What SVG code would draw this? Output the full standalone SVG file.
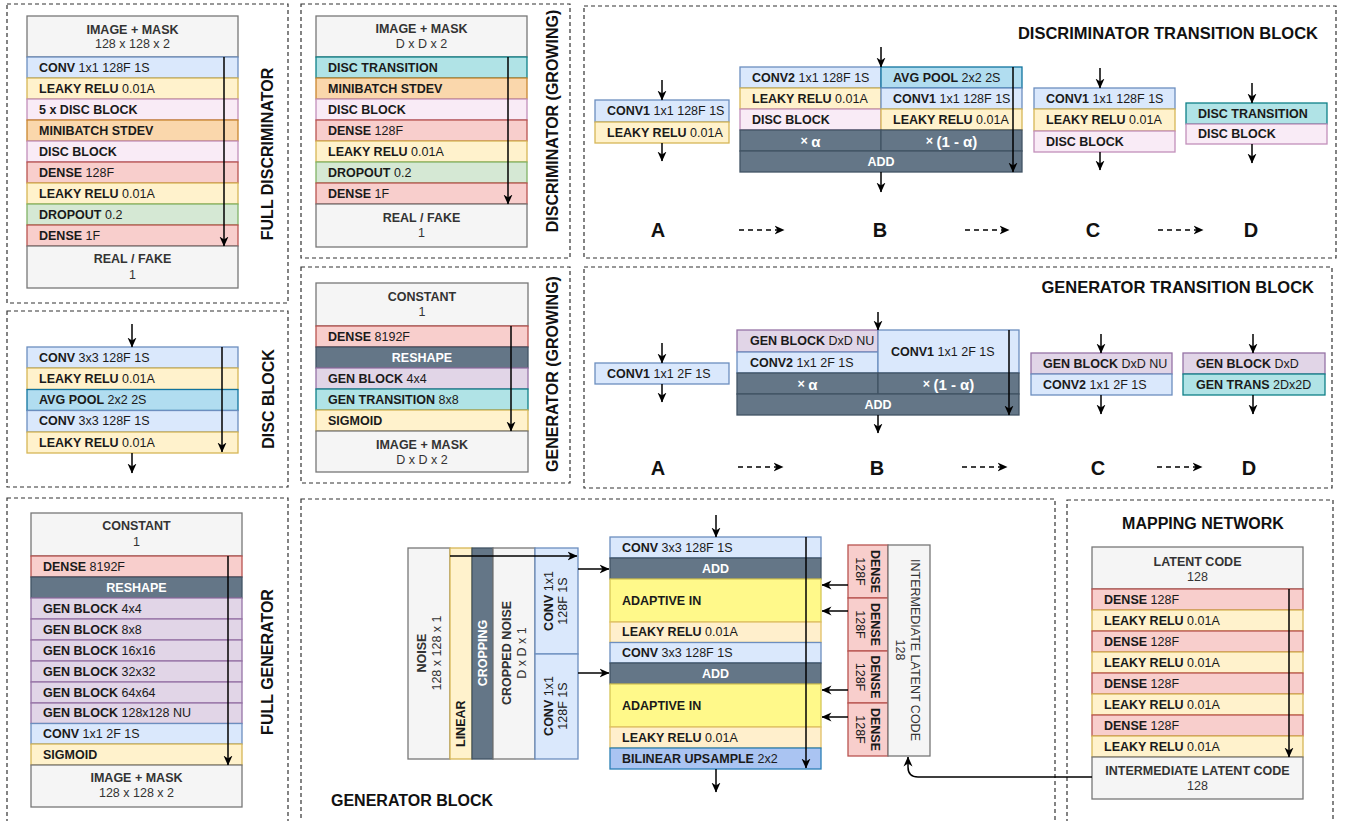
<svg xmlns="http://www.w3.org/2000/svg" width="1348" height="821" viewBox="0 0 1348 821">
<defs>
<style>
text{font-family:"Liberation Sans",Arial,Helvetica,sans-serif;font-size:12.5px;fill:#1a1a1a;dominant-baseline:central}
.bd{font-weight:bold}
.c{text-anchor:middle}
.h{fill:#333}
.w{fill:#fff;font-weight:bold;text-anchor:middle}
.al{font-size:15px}
.ttl{font-size:16px;font-weight:bold;fill:#111;text-anchor:middle}
.ttl2{font-size:16.5px;font-weight:bold;fill:#111;text-anchor:end}
.lbl{font-size:20px;font-weight:bold;text-anchor:middle;fill:#111}
rect{stroke-width:1.3}
.panel{fill:none;stroke:#333;stroke-width:1.2;stroke-dasharray:4 3}
.b{fill:#dae8fc;stroke:#6c8ebf}
.y{fill:#fff2cc;stroke:#d6b656}
.pk{fill:#f9ebf6;stroke:#c290bb}
.o{fill:#fad7ac;stroke:#c9862f}
.r{fill:#f8cecc;stroke:#b85450}
.g{fill:#d5e8d4;stroke:#82b366}
.gr{fill:#f5f5f5;stroke:#777}
.t{fill:#b0e3e6;stroke:#0e8088}
.ap{fill:#b1ddf0;stroke:#10739e}
.d{fill:#647687;stroke:#415364}
.pu{fill:#e1d5e7;stroke:#9673a6}
.ai{fill:#fff98a;stroke:#d6c656}
.ly{fill:#ffefcc;stroke:#e0bf66}
.bu{fill:#aac4f2;stroke:#2a7fb5}
.ar{fill:none;stroke:#000;stroke-width:1.5;marker-end:url(#ah)}
.da{fill:none;stroke:#000;stroke-width:1.5;stroke-dasharray:5 4;marker-end:url(#ah)}
</style>
<marker id="ah" viewBox="0 0 10 10" refX="9.5" refY="5" markerWidth="10" markerHeight="10" markerUnits="userSpaceOnUse" orient="auto"><path d="M0,0.5 L10,5 L0,9.5 L3,5 z" fill="#000"/></marker>
</defs>
<rect width="1348" height="821" fill="#fff" stroke="none"/>

<g id="panels">
<rect class="panel" x="7" y="4" width="281" height="299"/>
<rect class="panel" x="7" y="311" width="281" height="176"/>
<rect class="panel" x="7" y="498" width="281" height="340"/>
<rect class="panel" x="301" y="4" width="269" height="254"/>
<rect class="panel" x="301" y="267" width="269" height="216"/>
<rect class="panel" x="584" y="6" width="752" height="252"/>
<rect class="panel" x="584" y="267" width="748" height="221"/>
<rect class="panel" x="301" y="499" width="754" height="340"/>
<rect class="panel" x="1067" y="500" width="266" height="340"/>
</g>

<g id="titles">
<text class="ttl" transform="rotate(-90 267 154)" x="267" y="154">FULL DISCRIMINATOR</text>
<text class="ttl" transform="rotate(-90 268 399)" x="268" y="399">DISC BLOCK</text>
<text class="ttl" transform="rotate(-90 267 662)" x="267" y="662">FULL GENERATOR</text>
<text class="ttl" transform="rotate(-90 552 121)" x="552" y="121">DISCRIMINATOR (GROWING)</text>
<text class="ttl" transform="rotate(-90 552 374)" x="552" y="374">GENERATOR (GROWING)</text>
<text class="ttl2" x="1318" y="33">DISCRIMINATOR TRANSITION BLOCK</text>
<text class="ttl2" x="1314" y="287">GENERATOR TRANSITION BLOCK</text>
<text class="ttl" x="1203" y="523">MAPPING NETWORK</text>
<text class="ttl" x="331" y="800" style="text-anchor:start">GENERATOR BLOCK</text>
</g>

<g id="full-discriminator">
<rect class="gr" x="27" y="16" width="211" height="41"/>
<text class="c h bd" x="132.5" y="30">IMAGE + MASK</text>
<text class="c h" x="132.5" y="44">128 x 128 x 2</text>
<rect class="b" x="27" y="57" width="211" height="21"/><text x="39" y="67.5"><tspan class="bd">CONV</tspan> 1x1 128F 1S</text>
<rect class="y" x="27" y="78" width="211" height="21"/><text x="39" y="88.5"><tspan class="bd">LEAKY RELU</tspan> 0.01A</text>
<rect class="pk" x="27" y="99" width="211" height="21"/><text class="bd" x="39" y="109.5">5 x DISC BLOCK</text>
<rect class="o" x="27" y="120" width="211" height="21"/><text class="bd" x="39" y="130.5">MINIBATCH STDEV</text>
<rect class="pk" x="27" y="141" width="211" height="21"/><text class="bd" x="39" y="151.5">DISC BLOCK</text>
<rect class="r" x="27" y="162" width="211" height="21"/><text x="39" y="172.5"><tspan class="bd">DENSE</tspan> 128F</text>
<rect class="y" x="27" y="183" width="211" height="21"/><text x="39" y="193.5"><tspan class="bd">LEAKY RELU</tspan> 0.01A</text>
<rect class="g" x="27" y="204" width="211" height="21"/><text x="39" y="214.5"><tspan class="bd">DROPOUT</tspan> 0.2</text>
<rect class="r" x="27" y="225" width="211" height="21"/><text x="39" y="235.5"><tspan class="bd">DENSE</tspan> 1F</text>
<rect class="gr" x="27" y="246" width="211" height="42"/>
<text class="c h bd" x="132.5" y="259">REAL / FAKE</text>
<text class="c h" x="132.5" y="275">1</text>
</g>

<g id="disc-block">
<rect class="b" x="27" y="347" width="211" height="21"/><text x="39" y="357.5"><tspan class="bd">CONV</tspan> 3x3 128F 1S</text>
<rect class="y" x="27" y="368" width="211" height="21.5"/><text x="39" y="378.7"><tspan class="bd">LEAKY RELU</tspan> 0.01A</text>
<rect class="ap" x="27" y="389.5" width="211" height="21"/><text x="39" y="400"><tspan class="bd">AVG POOL</tspan> 2x2 2S</text>
<rect class="b" x="27" y="410.5" width="211" height="21.5"/><text x="39" y="421.2"><tspan class="bd">CONV</tspan> 3x3 128F 1S</text>
<rect class="y" x="27" y="432" width="211" height="21"/><text x="39" y="442.5"><tspan class="bd">LEAKY RELU</tspan> 0.01A</text>
</g>

<g id="disc-growing">
<rect class="gr" x="316" y="16" width="211" height="41"/>
<text class="c h bd" x="421.5" y="29">IMAGE + MASK</text>
<text class="c h" x="421.5" y="44">D x D x 2</text>
<rect class="t" x="316" y="57" width="211" height="21"/><text class="bd" x="328" y="67.5">DISC TRANSITION</text>
<rect class="o" x="316" y="78" width="211" height="21"/><text class="bd" x="328" y="88.5">MINIBATCH STDEV</text>
<rect class="pk" x="316" y="99" width="211" height="21"/><text class="bd" x="328" y="109.5">DISC BLOCK</text>
<rect class="r" x="316" y="120" width="211" height="21"/><text x="328" y="130.5"><tspan class="bd">DENSE</tspan> 128F</text>
<rect class="y" x="316" y="141" width="211" height="21"/><text x="328" y="151.5"><tspan class="bd">LEAKY RELU</tspan> 0.01A</text>
<rect class="g" x="316" y="162" width="211" height="21"/><text x="328" y="172.5"><tspan class="bd">DROPOUT</tspan> 0.2</text>
<rect class="r" x="316" y="183" width="211" height="21"/><text x="328" y="193.5"><tspan class="bd">DENSE</tspan> 1F</text>
<rect class="gr" x="316" y="204" width="211" height="43"/>
<text class="c h bd" x="421.5" y="218">REAL / FAKE</text>
<text class="c h" x="421.5" y="233">1</text>
</g>

<g id="gen-growing">
<rect class="gr" x="316" y="283" width="212" height="43"/>
<text class="c h bd" x="422" y="297">CONSTANT</text>
<text class="c h" x="422" y="312">1</text>
<rect class="r" x="316" y="326" width="212" height="21"/><text x="328" y="336.5"><tspan class="bd">DENSE</tspan> 8192F</text>
<rect class="d" x="316" y="347" width="212" height="21"/><text class="w" x="422" y="357.5">RESHAPE</text>
<rect class="pu" x="316" y="368" width="212" height="21"/><text x="328" y="378.5"><tspan class="bd">GEN BLOCK</tspan> 4x4</text>
<rect class="t" x="316" y="389" width="212" height="21"/><text x="328" y="399.5"><tspan class="bd">GEN TRANSITION</tspan> 8x8</text>
<rect class="y" x="316" y="410" width="212" height="21"/><text class="bd" x="328" y="420.5">SIGMOID</text>
<rect class="gr" x="316" y="431" width="212" height="41"/>
<text class="c h bd" x="422" y="445">IMAGE + MASK</text>
<text class="c h" x="422" y="460">D x D x 2</text>
</g>

<g id="full-generator">
<rect class="gr" x="31" y="513" width="211" height="43"/>
<text class="c h bd" x="136.5" y="526">CONSTANT</text>
<text class="c h" x="136.5" y="542">1</text>
<rect class="r" x="31" y="556" width="211" height="21"/><text x="43" y="566.5"><tspan class="bd">DENSE</tspan> 8192F</text>
<rect class="d" x="31" y="577" width="211" height="21"/><text class="w" x="136.5" y="587.5">RESHAPE</text>
<rect class="pu" x="31" y="598" width="211" height="21"/><text x="43" y="608.5"><tspan class="bd">GEN BLOCK</tspan> 4x4</text>
<rect class="pu" x="31" y="619" width="211" height="21"/><text x="43" y="629.5"><tspan class="bd">GEN BLOCK</tspan> 8x8</text>
<rect class="pu" x="31" y="640" width="211" height="21"/><text x="43" y="650.5"><tspan class="bd">GEN BLOCK</tspan> 16x16</text>
<rect class="pu" x="31" y="661" width="211" height="21"/><text x="43" y="671.5"><tspan class="bd">GEN BLOCK</tspan> 32x32</text>
<rect class="pu" x="31" y="682" width="211" height="21"/><text x="43" y="692.5"><tspan class="bd">GEN BLOCK</tspan> 64x64</text>
<rect class="pu" x="31" y="703" width="211" height="20.5"/><text x="43" y="713.2"><tspan class="bd">GEN BLOCK</tspan> 128x128 NU</text>
<rect class="b" x="31" y="723.5" width="211" height="20.5"/><text x="43" y="733.7"><tspan class="bd">CONV</tspan> 1x1 2F 1S</text>
<rect class="y" x="31" y="744" width="211" height="21"/><text class="bd" x="43" y="754.5">SIGMOID</text>
<rect class="gr" x="31" y="765" width="211" height="42"/>
<text class="c h bd" x="136.5" y="778">IMAGE + MASK</text>
<text class="c h" x="136.5" y="793">128 x 128 x 2</text>
</g>

<g id="mapping-network">
<rect class="gr" x="1092" y="547" width="211" height="42"/>
<text class="c h bd" x="1197.5" y="562">LATENT CODE</text>
<text class="c h" x="1197.5" y="577">128</text>
<rect class="r" x="1092" y="589" width="211" height="21"/><text x="1104" y="599.5"><tspan class="bd">DENSE</tspan> 128F</text>
<rect class="y" x="1092" y="610" width="211" height="21"/><text x="1104" y="620.5"><tspan class="bd">LEAKY RELU</tspan> 0.01A</text>
<rect class="r" x="1092" y="631" width="211" height="21"/><text x="1104" y="641.5"><tspan class="bd">DENSE</tspan> 128F</text>
<rect class="y" x="1092" y="652" width="211" height="21"/><text x="1104" y="662.5"><tspan class="bd">LEAKY RELU</tspan> 0.01A</text>
<rect class="r" x="1092" y="673" width="211" height="21"/><text x="1104" y="683.5"><tspan class="bd">DENSE</tspan> 128F</text>
<rect class="y" x="1092" y="694" width="211" height="21"/><text x="1104" y="704.5"><tspan class="bd">LEAKY RELU</tspan> 0.01A</text>
<rect class="r" x="1092" y="715" width="211" height="21"/><text x="1104" y="725.5"><tspan class="bd">DENSE</tspan> 128F</text>
<rect class="y" x="1092" y="736" width="211" height="21"/><text x="1104" y="746.5"><tspan class="bd">LEAKY RELU</tspan> 0.01A</text>
<rect class="gr" x="1092" y="757" width="211" height="42"/>
<text class="c h bd" x="1197.5" y="771">INTERMEDIATE LATENT CODE</text>
<text class="c h" x="1197.5" y="786">128</text>
</g>

<g id="disc-trans-A">
<rect class="b" x="595" y="100" width="134" height="22"/><text x="607" y="111"><tspan class="bd">CONV1</tspan> 1x1 128F 1S</text>
<rect class="y" x="595" y="122" width="134" height="21"/><text x="607" y="132.5"><tspan class="bd">LEAKY RELU</tspan> 0.01A</text>
</g>
<g id="disc-trans-B">
<rect class="b" x="740" y="67" width="141" height="21"/><text x="752" y="77.5"><tspan class="bd">CONV2</tspan> 1x1 128F 1S</text>
<rect class="y" x="740" y="88" width="141" height="21"/><text x="752" y="98.5"><tspan class="bd">LEAKY RELU</tspan> 0.01A</text>
<rect class="pk" x="740" y="109" width="141" height="21"/><text class="bd" x="752" y="119.5">DISC BLOCK</text>
<rect class="ap" x="881" y="67" width="141" height="21"/><text x="893" y="77.5"><tspan class="bd">AVG POOL</tspan> 2x2 2S</text>
<rect class="b" x="881" y="88" width="141" height="21"/><text x="893" y="98.5"><tspan class="bd">CONV1</tspan> 1x1 128F 1S</text>
<rect class="y" x="881" y="109" width="141" height="21"/><text x="893" y="119.5"><tspan class="bd">LEAKY RELU</tspan> 0.01A</text>
<rect class="d" x="740" y="130" width="141" height="21"/><text class="w" x="810.5" y="140.5">× <tspan class="al">α</tspan></text>
<rect class="d" x="881" y="130" width="141" height="21"/><text class="w" x="951.5" y="140.5">× <tspan class="al">(1 - α)</tspan></text>
<rect class="d" x="740" y="151" width="282" height="21"/><text class="w" x="881" y="161.5">ADD</text>
</g>
<g id="disc-trans-C">
<rect class="b" x="1034" y="88" width="141" height="21"/><text x="1046" y="98.5"><tspan class="bd">CONV1</tspan> 1x1 128F 1S</text>
<rect class="y" x="1034" y="109" width="141" height="22"/><text x="1046" y="120"><tspan class="bd">LEAKY RELU</tspan> 0.01A</text>
<rect class="pk" x="1034" y="131" width="141" height="21"/><text class="bd" x="1046" y="141.5">DISC BLOCK</text>
</g>
<g id="disc-trans-D">
<rect class="t" x="1186" y="103" width="141" height="21"/><text class="bd" x="1198" y="113.5">DISC TRANSITION</text>
<rect class="pk" x="1186" y="124" width="141" height="20"/><text class="bd" x="1198" y="134">DISC BLOCK</text>
</g>
<g id="disc-trans-labels">
<text class="lbl" x="658" y="230">A</text>
<text class="lbl" x="880" y="230">B</text>
<text class="lbl" x="1093" y="230">C</text>
<text class="lbl" x="1251" y="230">D</text>
</g>

<g id="gen-trans-A">
<rect class="b" x="595" y="363" width="134" height="21"/><text x="607" y="373.5"><tspan class="bd">CONV1</tspan> 1x1 2F 1S</text>
</g>
<g id="gen-trans-B">
<rect class="pu" x="737" y="330" width="141" height="22"/><text x="750" y="341"><tspan class="bd">GEN BLOCK</tspan> DxD NU</text>
<rect class="b" x="737" y="352" width="141" height="21"/><text x="750" y="362.5"><tspan class="bd">CONV2</tspan> 1x1 2F 1S</text>
<rect class="b" x="878" y="330" width="141" height="43"/><text x="891" y="351.5"><tspan class="bd">CONV1</tspan> 1x1 2F 1S</text>
<rect class="d" x="737" y="373" width="141" height="21"/><text class="w" x="807.5" y="383.5">× <tspan class="al">α</tspan></text>
<rect class="d" x="878" y="373" width="141" height="21"/><text class="w" x="948.5" y="383.5">× <tspan class="al">(1 - α)</tspan></text>
<rect class="d" x="737" y="394" width="282" height="21"/><text class="w" x="878" y="404.5">ADD</text>
</g>
<g id="gen-trans-C">
<rect class="pu" x="1031" y="353" width="141" height="21"/><text x="1043" y="363.5"><tspan class="bd">GEN BLOCK</tspan> DxD NU</text>
<rect class="b" x="1031" y="374" width="141" height="21"/><text x="1043" y="384.5"><tspan class="bd">CONV2</tspan> 1x1 2F 1S</text>
</g>
<g id="gen-trans-D">
<rect class="pu" x="1183" y="353" width="142" height="21"/><text x="1196" y="363.5"><tspan class="bd">GEN BLOCK</tspan> DxD</text>
<rect class="t" x="1183" y="374" width="142" height="21"/><text x="1196" y="384.5"><tspan class="bd">GEN TRANS</tspan> 2Dx2D</text>
</g>
<g id="gen-trans-labels">
<text class="lbl" x="658" y="468">A</text>
<text class="lbl" x="877" y="468">B</text>
<text class="lbl" x="1098" y="468">C</text>
<text class="lbl" x="1249" y="468">D</text>
</g>

<g id="noise-branch">
<rect class="gr" x="408" y="548" width="42" height="211"/>
<text class="c h bd" transform="rotate(-90 422 653)" x="422" y="653">NOISE</text>
<text class="c h" transform="rotate(-90 437 653)" x="437" y="653">128 x 128 x 1</text>
<rect class="y" x="450" y="548" width="22" height="211"/>
<text class="bd" transform="rotate(-90 461 747)" x="461" y="747">LINEAR</text>
<rect class="d" x="472" y="548" width="21" height="211"/>
<text class="w" transform="rotate(-90 483 653)" x="483" y="653">CROPPING</text>
<rect class="gr" x="493" y="548" width="42" height="211"/>
<text class="c h bd" transform="rotate(-90 507 653)" x="507" y="653">CROPPED NOISE</text>
<text class="c h" transform="rotate(-90 522 653)" x="522" y="653">D x D x 1</text>
<rect class="b" x="535" y="548" width="43" height="106"/>
<text class="c" transform="rotate(-90 549 601)" x="549" y="601"><tspan class="bd">CONV</tspan> 1x1</text>
<text class="c" transform="rotate(-90 563 601)" x="563" y="601">128F 1S</text>
<rect class="b" x="535" y="654" width="43" height="105"/>
<text class="c" transform="rotate(-90 549 706)" x="549" y="706"><tspan class="bd">CONV</tspan> 1x1</text>
<text class="c" transform="rotate(-90 563 706)" x="563" y="706">128F 1S</text>
</g>

<g id="gen-block-main">
<rect class="b" x="610" y="537" width="211" height="21"/><text x="622" y="547.5"><tspan class="bd">CONV</tspan> 3x3 128F 1S</text>
<rect class="d" x="610" y="558" width="211" height="21"/><text class="w" x="715.5" y="568.5">ADD</text>
<rect class="ai" x="610" y="579" width="211" height="43"/><text class="bd" x="622" y="600.5">ADAPTIVE IN</text>
<rect class="ly" x="610" y="622" width="211" height="20.5"/><text x="622" y="632.2"><tspan class="bd">LEAKY RELU</tspan> 0.01A</text>
<rect class="b" x="610" y="642.5" width="211" height="20.5"/><text x="622" y="652.7"><tspan class="bd">CONV</tspan> 3x3 128F 1S</text>
<rect class="d" x="610" y="663" width="211" height="21"/><text class="w" x="715.5" y="673.5">ADD</text>
<rect class="ai" x="610" y="684" width="211" height="43"/><text class="bd" x="622" y="705.5">ADAPTIVE IN</text>
<rect class="ly" x="610" y="727" width="211" height="21"/><text x="622" y="737.5"><tspan class="bd">LEAKY RELU</tspan> 0.01A</text>
<rect class="bu" x="610" y="748" width="211" height="21"/><text x="622" y="758.5"><tspan class="bd">BILINEAR UPSAMPLE</tspan> 2x2</text>
</g>

<g id="style-dense">
<rect class="r" x="848" y="545" width="40" height="53"/>
<rect class="r" x="848" y="598" width="40" height="53"/>
<rect class="r" x="848" y="651" width="40" height="52"/>
<rect class="r" x="848" y="703" width="40" height="53"/>
<text class="c bd" transform="rotate(90 875 571.5)" x="875" y="571.5">DENSE</text>
<text class="c" transform="rotate(90 860 571.5)" x="860" y="571.5">128F</text>
<text class="c bd" transform="rotate(90 875 624.5)" x="875" y="624.5">DENSE</text>
<text class="c" transform="rotate(90 860 624.5)" x="860" y="624.5">128F</text>
<text class="c bd" transform="rotate(90 875 677)" x="875" y="677">DENSE</text>
<text class="c" transform="rotate(90 860 677)" x="860" y="677">128F</text>
<text class="c bd" transform="rotate(90 875 729.5)" x="875" y="729.5">DENSE</text>
<text class="c" transform="rotate(90 860 729.5)" x="860" y="729.5">128F</text>
</g>
<g id="intermediate-code">
<rect class="gr" x="888" y="545" width="42" height="211"/>
<text class="c h" transform="rotate(90 915 650)" x="915" y="650">INTERMEDIATE LATENT CODE</text>
<text class="c h" transform="rotate(90 900 650)" x="900" y="650">128</text>
</g>

<g id="connectors">
<path class="ar" d="M224,57 V246"/>
<path class="ar" d="M132,324 V347"/>
<path class="ar" d="M132,453 V473"/>
<path class="ar" d="M222,347 V452"/>
<path class="ar" d="M508,57 V204"/>
<path class="ar" d="M511,326 V431"/>
<path class="ar" d="M228,556 V765"/>
<path class="ar" d="M1289,589 V757"/>
<path class="ar" d="M662,80 V100"/>
<path class="ar" d="M662,143 V161"/>
<path class="ar" d="M881,47 V67"/>
<path class="ar" d="M881,172 V192"/>
<path class="ar" d="M1013,67 V172"/>
<path class="ar" d="M1100,68 V88"/>
<path class="ar" d="M1100,152 V170"/>
<path class="ar" d="M1252,83 V103"/>
<path class="ar" d="M1252,144 V163"/>
<path class="da" d="M739,230 H784"/>
<path class="da" d="M965,230 H1009"/>
<path class="da" d="M1158,230 H1203"/>
<path class="ar" d="M662,343 V363"/>
<path class="ar" d="M662,384 V402"/>
<path class="ar" d="M878,312 V330"/>
<path class="ar" d="M878,415 V433"/>
<path class="ar" d="M1009,330 V415"/>
<path class="ar" d="M1101,334 V353"/>
<path class="ar" d="M1101,395 V414"/>
<path class="ar" d="M1253,334 V353"/>
<path class="ar" d="M1253,395 V414"/>
<path class="da" d="M738,467 H783"/>
<path class="da" d="M962,467 H1007"/>
<path class="da" d="M1157,467 H1202"/>
<path class="ar" d="M450,556 H577"/>
<path class="ar" d="M578,569 H609"/>
<path class="ar" d="M578,673 H609"/>
<path class="ar" d="M716,515 V537"/>
<path class="ar" d="M716,769 V792"/>
<path class="ar" d="M806,537 V768"/>
<path class="ar" d="M848,585 H822"/>
<path class="ar" d="M848,611 H822"/>
<path class="ar" d="M848,690 H822"/>
<path class="ar" d="M848,717 H822"/>
<path class="ar" d="M1092,777 H918 Q908,777 908,767 V757"/>
</g>
</svg>
